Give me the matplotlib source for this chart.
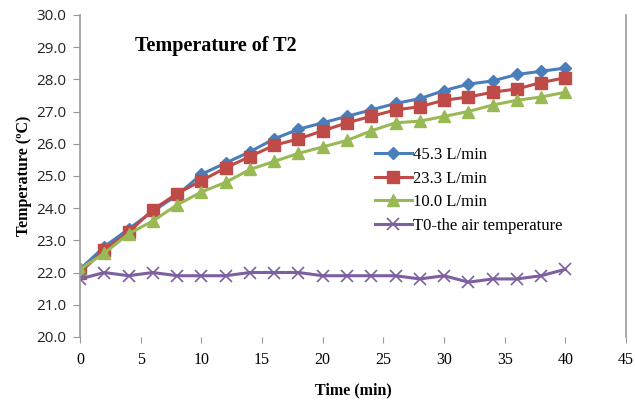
import matplotlib
matplotlib.use("Agg")
import matplotlib.pyplot as plt

time = [0, 2, 4, 6, 8, 10, 12, 14, 16, 18, 20, 22, 24, 26, 28, 30, 32, 34, 36, 38, 40]
flow_45_3 = [22.1, 22.8, 23.35, 23.9, 24.4, 25.05, 25.4, 25.75, 26.15, 26.45, 26.65, 26.85, 27.05, 27.25, 27.4, 27.65, 27.85, 27.95, 28.15, 28.25, 28.35]
flow_23_3 = [22.0, 22.7, 23.25, 23.95, 24.45, 24.85, 25.25, 25.6, 25.95, 26.15, 26.4, 26.65, 26.85, 27.05, 27.15, 27.35, 27.45, 27.6, 27.7, 27.9, 28.05]
flow_10_0 = [22.1, 22.6, 23.2, 23.6, 24.1, 24.5, 24.8, 25.2, 25.45, 25.7, 25.9, 26.1, 26.4, 26.65, 26.7, 26.85, 27.0, 27.2, 27.35, 27.45, 27.6]
air_t0 = [21.8, 22.0, 21.9, 22.0, 21.9, 21.9, 21.9, 22.0, 22.0, 22.0, 21.9, 21.9, 21.9, 21.9, 21.8, 21.9, 21.7, 21.8, 21.8, 21.9, 22.1]
labels = ["45.3 L/min", "23.3 L/min", "10.0 L/min", "T0-the air temperature"]

serif = ["Liberation Serif", "DejaVu Serif"]

fig = plt.figure(figsize=(6.35, 4.03), dpi=100)
ax = fig.add_axes([0.126, 0.164, 0.86, 0.799])

ax.plot(time, flow_45_3, color="#4A7EBB", marker="D", markersize=6, lw=2.2, label=labels[0])
ax.plot(time, flow_23_3, color="#BE4B48", marker="s", markersize=8, lw=2.2, label=labels[1])
ax.plot(time, flow_10_0, color="#98B954", marker="^", markersize=8.5, lw=2.2, label=labels[2])
ax.plot(time, air_t0, color="#7D60A0", marker="x", markersize=8, mew=1.2, lw=2.2, label=labels[3])

ax.set_xlim(0, 45)
ax.set_ylim(20, 30)
ax.set_xticks(range(0, 46, 5))
ax.set_yticks(range(20, 31, 1))
ax.set_yticklabels([f"{v:.1f}" for v in range(20, 31)], fontsize=11, color="#222222",
                   fontfamily=["Open Sans", "DejaVu Sans"])
ax.set_xticklabels([str(v) for v in range(0, 46, 5)], fontsize=11.5, fontfamily=serif)

for s in ["top", "bottom"]:
    ax.spines[s].set_visible(False)
for s in ["left", "right"]:
    ax.spines[s].set_color("#999999")
    ax.spines[s].set_linewidth(1.2)
ax.tick_params(axis="y", length=5, color="#999999", direction="out", pad=5)
ax.tick_params(axis="x", length=4, color="#999999", direction="out", pad=7)
ax.tick_params(axis="y", which="both", right=False)

ax.set_xlabel("Time (min)", fontsize=11.5, fontweight="bold", fontfamily=serif, labelpad=10)
ax.set_ylabel("Temperature (ºC)", fontsize=11.5, fontweight="bold", fontfamily=serif, labelpad=3)
ax.text(0.10, 0.905, "Temperature of T2", transform=ax.transAxes, fontsize=14.5,
        fontweight="bold", fontfamily=serif, va="center", ha="left")

leg = ax.legend(loc="upper left", bbox_to_anchor=(0.528, 0.61), frameon=False,
                prop={"family": serif, "size": 12}, handlelength=2.2, handletextpad=0.05,
                labelspacing=0.45, borderaxespad=0)

fig.savefig("out.png", dpi=100)
